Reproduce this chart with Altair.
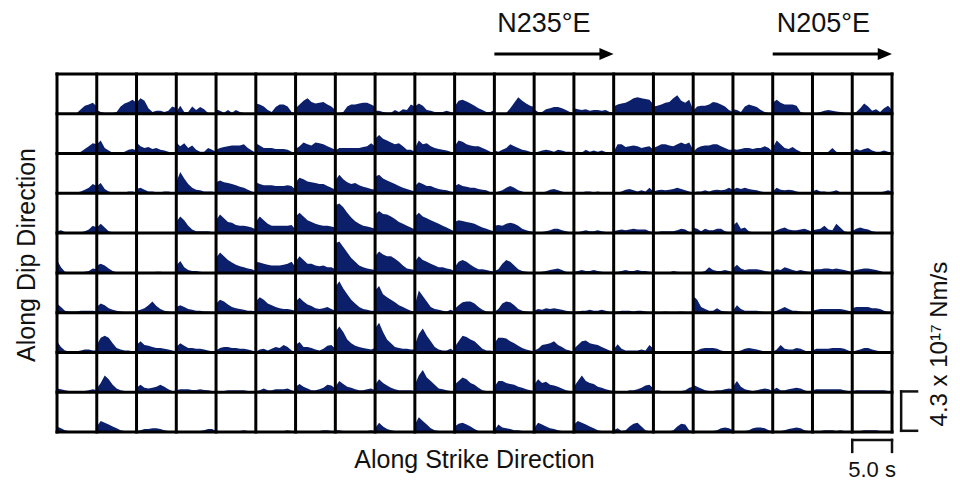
import altair as alt
import pandas as pd

NCOL, NROW = 21, 9
# sample positions inside each subfault window (fraction of the 5.0 s panel width)
TIME_FRAC = [0.0, 0.1, 0.2, 0.3, 0.4, 0.5, 0.6, 0.7, 0.8, 0.9, 1.0]

# moment-rate amplitude per subfault, as a fraction of the 4.3e17 Nm/s scale bar
R0 = [
 [0.02,0.02,0.02,0.02,0.02,0.02,0.12,0.22,0.25,0.30,0.20],
 [0.10,0.05,0.02,0.02,0.02,0.05,0.20,0.28,0.32,0.38,0.30],
 [0.30,0.42,0.35,0.15,0.05,0.08,0.08,0.05,0.08,0.20,0.15],
 [0.05,0.22,0.05,0.05,0.20,0.10,0.18,0.12,0.02,0.02,0.02],
 [0.12,0.08,0.03,0.10,0.03,0.10,0.05,0.02,0.02,0.02,0.02],
 [0.28,0.25,0.20,0.10,0.05,0.18,0.25,0.25,0.20,0.05,0.02],
 [0.15,0.25,0.35,0.42,0.32,0.28,0.30,0.32,0.25,0.20,0.10],
 [0.02,0.02,0.05,0.20,0.25,0.25,0.28,0.30,0.30,0.25,0.20],
 [0.08,0.08,0.05,0.03,0.03,0.10,0.05,0.12,0.10,0.25,0.20],
 [0.20,0.28,0.22,0.10,0.08,0.05,0.05,0.05,0.08,0.05,0.02],
 [0.20,0.35,0.38,0.33,0.28,0.22,0.15,0.10,0.05,0.05,0.10],
 [0.02,0.02,0.02,0.02,0.15,0.30,0.45,0.35,0.28,0.22,0.18],
 [0.12,0.05,0.05,0.12,0.15,0.18,0.18,0.15,0.10,0.05,0.02],
 [0.15,0.12,0.10,0.12,0.08,0.10,0.10,0.08,0.10,0.05,0.05],
 [0.20,0.25,0.28,0.30,0.35,0.42,0.45,0.42,0.40,0.38,0.25],
 [0.20,0.22,0.25,0.30,0.32,0.42,0.50,0.35,0.30,0.38,0.10],
 [0.08,0.20,0.22,0.22,0.25,0.32,0.30,0.25,0.20,0.10,0.05],
 [0.12,0.10,0.05,0.20,0.25,0.22,0.18,0.10,0.05,0.02,0.02],
 [0.30,0.38,0.30,0.25,0.25,0.25,0.22,0.05,0.02,0.02,0.02],
 [0.02,0.02,0.05,0.08,0.10,0.08,0.06,0.05,0.03,0.02,0.02],
 [0.02,0.05,0.15,0.28,0.20,0.08,0.12,0.05,0.15,0.22,0.10],
]
R1 = [
 [0.02,0.02,0.02,0.02,0.02,0.02,0.05,0.12,0.20,0.28,0.25],
 [0.25,0.35,0.15,0.08,0.02,0.02,0.02,0.05,0.10,0.12,0.08],
 [0.30,0.20,0.15,0.18,0.12,0.15,0.10,0.08,0.05,0.03,0.02],
 [0.30,0.20,0.28,0.15,0.22,0.10,0.05,0.05,0.15,0.10,0.05],
 [0.10,0.15,0.18,0.20,0.22,0.22,0.22,0.25,0.15,0.08,0.02],
 [0.28,0.22,0.15,0.15,0.15,0.12,0.12,0.12,0.10,0.05,0.02],
 [0.12,0.20,0.30,0.25,0.22,0.30,0.28,0.25,0.20,0.15,0.10],
 [0.08,0.15,0.15,0.15,0.15,0.15,0.15,0.18,0.20,0.28,0.20],
 [0.40,0.50,0.40,0.35,0.30,0.25,0.28,0.20,0.10,0.10,0.05],
 [0.15,0.35,0.25,0.28,0.20,0.15,0.12,0.10,0.08,0.05,0.02],
 [0.20,0.35,0.32,0.25,0.22,0.20,0.20,0.15,0.10,0.05,0.02],
 [0.08,0.05,0.10,0.15,0.25,0.20,0.15,0.10,0.08,0.05,0.03],
 [0.03,0.05,0.08,0.10,0.08,0.05,0.10,0.08,0.05,0.05,0.03],
 [0.03,0.05,0.03,0.10,0.05,0.08,0.05,0.08,0.04,0.02,0.02],
 [0.05,0.25,0.25,0.18,0.20,0.22,0.20,0.15,0.18,0.20,0.10],
 [0.15,0.20,0.25,0.25,0.22,0.20,0.25,0.30,0.25,0.30,0.10],
 [0.05,0.15,0.20,0.22,0.22,0.25,0.25,0.20,0.15,0.10,0.10],
 [0.12,0.10,0.12,0.15,0.15,0.12,0.15,0.15,0.20,0.15,0.05],
 [0.15,0.35,0.25,0.15,0.12,0.18,0.10,0.05,0.02,0.02,0.02],
 [0.02,0.02,0.02,0.02,0.05,0.15,0.05,0.02,0.02,0.02,0.02],
 [0.05,0.12,0.08,0.12,0.15,0.08,0.05,0.05,0.08,0.05,0.03],
]
R2 = [
 [0.02,0.02,0.02,0.02,0.02,0.02,0.05,0.10,0.15,0.25,0.20],
 [0.20,0.28,0.12,0.05,0.02,0.02,0.02,0.02,0.05,0.05,0.02],
 [0.12,0.15,0.10,0.05,0.05,0.03,0.03,0.05,0.05,0.03,0.02],
 [0.30,0.58,0.40,0.25,0.15,0.10,0.08,0.05,0.05,0.05,0.02],
 [0.30,0.35,0.30,0.28,0.25,0.22,0.18,0.15,0.10,0.05,0.02],
 [0.30,0.25,0.22,0.22,0.22,0.20,0.20,0.20,0.22,0.20,0.10],
 [0.30,0.42,0.38,0.32,0.30,0.28,0.25,0.25,0.20,0.15,0.10],
 [0.35,0.50,0.38,0.30,0.25,0.28,0.22,0.18,0.15,0.12,0.10],
 [0.45,0.50,0.40,0.35,0.30,0.25,0.20,0.15,0.12,0.08,0.05],
 [0.20,0.30,0.25,0.20,0.20,0.15,0.12,0.10,0.08,0.05,0.03],
 [0.20,0.25,0.20,0.18,0.15,0.15,0.12,0.10,0.08,0.03,0.02],
 [0.02,0.05,0.08,0.15,0.20,0.15,0.08,0.05,0.02,0.02,0.02],
 [0.02,0.02,0.02,0.05,0.10,0.12,0.08,0.05,0.02,0.02,0.02],
 [0.02,0.02,0.03,0.05,0.05,0.03,0.05,0.03,0.02,0.02,0.02],
 [0.02,0.02,0.05,0.10,0.12,0.08,0.05,0.08,0.05,0.15,0.05],
 [0.05,0.08,0.10,0.08,0.10,0.12,0.15,0.12,0.08,0.05,0.02],
 [0.02,0.05,0.05,0.08,0.05,0.08,0.10,0.08,0.10,0.15,0.10],
 [0.10,0.15,0.12,0.15,0.12,0.10,0.08,0.05,0.03,0.02,0.02],
 [0.05,0.15,0.10,0.08,0.10,0.08,0.05,0.03,0.02,0.02,0.02],
 [0.05,0.10,0.05,0.05,0.03,0.05,0.08,0.03,0.02,0.02,0.02],
 [0.02,0.02,0.02,0.03,0.03,0.03,0.03,0.03,0.05,0.08,0.05],
]
R3 = [
 [0.05,0.08,0.03,0.02,0.02,0.02,0.02,0.05,0.10,0.20,0.15],
 [0.15,0.25,0.15,0.05,0.02,0.02,0.02,0.02,0.02,0.02,0.02],
 [0.02,0.02,0.02,0.02,0.02,0.02,0.02,0.02,0.02,0.02,0.02],
 [0.30,0.45,0.35,0.20,0.10,0.05,0.05,0.05,0.05,0.03,0.02],
 [0.35,0.50,0.40,0.30,0.28,0.22,0.20,0.20,0.18,0.15,0.10],
 [0.30,0.45,0.35,0.25,0.20,0.20,0.20,0.20,0.20,0.22,0.10],
 [0.45,0.55,0.45,0.35,0.30,0.25,0.22,0.20,0.20,0.18,0.15],
 [0.75,0.80,0.70,0.55,0.42,0.32,0.25,0.20,0.18,0.15,0.12],
 [0.50,0.60,0.52,0.50,0.45,0.38,0.30,0.25,0.20,0.15,0.10],
 [0.45,0.55,0.45,0.40,0.35,0.30,0.25,0.20,0.15,0.10,0.05],
 [0.30,0.35,0.33,0.30,0.28,0.25,0.20,0.15,0.12,0.08,0.05],
 [0.20,0.22,0.20,0.25,0.28,0.25,0.20,0.12,0.08,0.05,0.03],
 [0.02,0.02,0.03,0.05,0.08,0.12,0.12,0.08,0.05,0.02,0.02],
 [0.02,0.02,0.05,0.08,0.05,0.05,0.08,0.05,0.03,0.02,0.02],
 [0.05,0.08,0.10,0.08,0.10,0.12,0.10,0.10,0.10,0.05,0.02],
 [0.02,0.03,0.05,0.05,0.05,0.05,0.08,0.12,0.10,0.03,0.02],
 [0.15,0.12,0.05,0.12,0.08,0.08,0.12,0.12,0.05,0.02,0.02],
 [0.20,0.30,0.12,0.15,0.05,0.02,0.02,0.02,0.02,0.02,0.02],
 [0.02,0.08,0.12,0.15,0.10,0.08,0.08,0.10,0.12,0.08,0.03],
 [0.08,0.10,0.12,0.20,0.10,0.08,0.25,0.15,0.05,0.02,0.02],
 [0.05,0.12,0.15,0.12,0.10,0.05,0.03,0.02,0.02,0.02,0.02],
]
R4 = [
 [0.35,0.15,0.03,0.02,0.02,0.02,0.02,0.03,0.05,0.12,0.10],
 [0.20,0.25,0.20,0.12,0.05,0.02,0.02,0.02,0.02,0.02,0.02],
 [0.02,0.02,0.02,0.02,0.02,0.03,0.03,0.02,0.02,0.02,0.02],
 [0.20,0.32,0.15,0.08,0.05,0.05,0.03,0.02,0.02,0.02,0.02],
 [0.40,0.55,0.45,0.35,0.28,0.22,0.18,0.15,0.12,0.10,0.05],
 [0.30,0.28,0.25,0.22,0.20,0.20,0.20,0.22,0.25,0.30,0.15],
 [0.30,0.45,0.35,0.25,0.25,0.20,0.18,0.20,0.15,0.15,0.10],
 [0.80,0.85,0.70,0.55,0.40,0.30,0.20,0.15,0.12,0.10,0.08],
 [0.45,0.58,0.50,0.45,0.45,0.38,0.30,0.20,0.12,0.10,0.08],
 [0.30,0.45,0.35,0.30,0.25,0.20,0.15,0.15,0.12,0.10,0.05],
 [0.15,0.30,0.35,0.30,0.22,0.15,0.10,0.10,0.08,0.05,0.03],
 [0.05,0.10,0.25,0.35,0.30,0.20,0.10,0.05,0.03,0.02,0.02],
 [0.02,0.02,0.03,0.05,0.08,0.10,0.12,0.08,0.03,0.02,0.02],
 [0.03,0.05,0.08,0.05,0.05,0.08,0.05,0.03,0.02,0.02,0.02],
 [0.02,0.03,0.05,0.08,0.05,0.05,0.08,0.05,0.05,0.03,0.02],
 [0.02,0.02,0.02,0.02,0.02,0.05,0.03,0.02,0.02,0.02,0.02],
 [0.02,0.02,0.02,0.05,0.15,0.08,0.05,0.05,0.08,0.05,0.02],
 [0.12,0.22,0.12,0.08,0.10,0.10,0.10,0.08,0.05,0.03,0.02],
 [0.05,0.10,0.08,0.15,0.12,0.08,0.05,0.08,0.05,0.03,0.02],
 [0.08,0.10,0.10,0.12,0.12,0.10,0.12,0.10,0.08,0.05,0.02],
 [0.05,0.08,0.10,0.12,0.12,0.10,0.08,0.05,0.02,0.02,0.02],
]
R5 = [
 [0.25,0.15,0.05,0.03,0.03,0.03,0.05,0.05,0.05,0.05,0.03],
 [0.15,0.25,0.20,0.12,0.08,0.05,0.03,0.02,0.02,0.02,0.02],
 [0.05,0.08,0.12,0.20,0.30,0.18,0.10,0.05,0.03,0.02,0.02],
 [0.15,0.20,0.15,0.10,0.08,0.05,0.05,0.03,0.03,0.02,0.02],
 [0.25,0.35,0.30,0.22,0.15,0.12,0.10,0.08,0.05,0.05,0.03],
 [0.30,0.42,0.35,0.25,0.20,0.15,0.12,0.10,0.10,0.08,0.05],
 [0.30,0.40,0.30,0.22,0.18,0.12,0.10,0.12,0.15,0.10,0.05],
 [0.70,0.85,0.65,0.50,0.35,0.25,0.15,0.10,0.08,0.05,0.05],
 [0.60,0.72,0.50,0.42,0.35,0.28,0.20,0.15,0.10,0.05,0.03],
 [0.20,0.60,0.45,0.30,0.15,0.10,0.08,0.05,0.03,0.08,0.03],
 [0.10,0.20,0.28,0.30,0.30,0.25,0.15,0.08,0.03,0.02,0.02],
 [0.02,0.10,0.25,0.30,0.28,0.20,0.10,0.05,0.03,0.02,0.02],
 [0.05,0.10,0.08,0.12,0.10,0.12,0.10,0.08,0.05,0.03,0.02],
 [0.02,0.03,0.05,0.05,0.08,0.05,0.05,0.08,0.05,0.02,0.02],
 [0.02,0.03,0.05,0.05,0.05,0.03,0.05,0.05,0.03,0.02,0.02],
 [0.02,0.02,0.02,0.03,0.02,0.02,0.02,0.03,0.02,0.02,0.02],
 [0.45,0.35,0.15,0.10,0.05,0.05,0.12,0.05,0.03,0.02,0.02],
 [0.05,0.20,0.10,0.05,0.05,0.05,0.05,0.03,0.02,0.02,0.02],
 [0.02,0.05,0.10,0.15,0.10,0.05,0.05,0.03,0.02,0.02,0.02],
 [0.05,0.08,0.10,0.10,0.10,0.10,0.10,0.10,0.08,0.05,0.02],
 [0.12,0.15,0.15,0.15,0.15,0.12,0.12,0.10,0.05,0.02,0.02],
]
R6 = [
 [0.30,0.15,0.05,0.03,0.03,0.03,0.05,0.08,0.08,0.05,0.05],
 [0.20,0.40,0.45,0.40,0.25,0.12,0.08,0.05,0.05,0.03,0.02],
 [0.20,0.30,0.20,0.18,0.15,0.12,0.12,0.10,0.08,0.05,0.03],
 [0.15,0.25,0.18,0.12,0.12,0.10,0.10,0.08,0.05,0.03,0.02],
 [0.05,0.12,0.15,0.15,0.12,0.12,0.10,0.10,0.08,0.05,0.02],
 [0.02,0.08,0.10,0.05,0.10,0.15,0.12,0.20,0.15,0.05,0.02],
 [0.20,0.28,0.15,0.15,0.12,0.08,0.05,0.10,0.18,0.20,0.10],
 [0.55,0.70,0.55,0.35,0.25,0.18,0.15,0.12,0.10,0.08,0.12],
 [0.65,0.80,0.55,0.35,0.25,0.15,0.12,0.10,0.10,0.08,0.08],
 [0.20,0.50,0.65,0.45,0.30,0.15,0.08,0.05,0.05,0.10,0.03],
 [0.15,0.30,0.45,0.42,0.35,0.30,0.20,0.10,0.05,0.05,0.03],
 [0.25,0.40,0.40,0.38,0.30,0.25,0.18,0.12,0.08,0.05,0.03],
 [0.05,0.10,0.20,0.22,0.25,0.30,0.20,0.15,0.08,0.05,0.02],
 [0.10,0.20,0.30,0.32,0.25,0.22,0.20,0.15,0.10,0.05,0.03],
 [0.08,0.22,0.10,0.05,0.05,0.05,0.05,0.08,0.05,0.20,0.10],
 [0.03,0.03,0.02,0.02,0.03,0.03,0.02,0.02,0.02,0.02,0.02],
 [0.02,0.05,0.10,0.12,0.12,0.12,0.10,0.05,0.03,0.02,0.02],
 [0.02,0.03,0.05,0.10,0.12,0.10,0.08,0.05,0.03,0.02,0.02],
 [0.02,0.08,0.20,0.10,0.08,0.08,0.12,0.10,0.05,0.02,0.02],
 [0.05,0.10,0.10,0.10,0.10,0.12,0.12,0.12,0.10,0.05,0.02],
 [0.02,0.05,0.08,0.12,0.12,0.08,0.05,0.03,0.02,0.02,0.02],
]
R7 = [
 [0.10,0.08,0.05,0.03,0.03,0.03,0.03,0.03,0.05,0.08,0.05],
 [0.10,0.25,0.45,0.35,0.20,0.10,0.05,0.03,0.02,0.02,0.02],
 [0.12,0.20,0.12,0.10,0.12,0.15,0.20,0.15,0.08,0.03,0.02],
 [0.05,0.08,0.08,0.08,0.06,0.06,0.08,0.06,0.05,0.03,0.02],
 [0.03,0.03,0.03,0.05,0.05,0.05,0.05,0.05,0.03,0.02,0.02],
 [0.03,0.05,0.10,0.05,0.05,0.08,0.08,0.08,0.10,0.05,0.02],
 [0.15,0.22,0.15,0.10,0.05,0.05,0.08,0.12,0.20,0.18,0.10],
 [0.15,0.30,0.22,0.15,0.12,0.08,0.05,0.05,0.08,0.10,0.05],
 [0.20,0.35,0.25,0.18,0.12,0.08,0.05,0.05,0.05,0.05,0.03],
 [0.20,0.45,0.60,0.40,0.30,0.20,0.10,0.08,0.05,0.03,0.02],
 [0.20,0.30,0.40,0.35,0.25,0.20,0.12,0.05,0.03,0.02,0.02],
 [0.15,0.30,0.30,0.25,0.22,0.20,0.15,0.12,0.08,0.05,0.03],
 [0.20,0.35,0.25,0.28,0.20,0.18,0.15,0.10,0.05,0.03,0.02],
 [0.15,0.30,0.45,0.30,0.25,0.22,0.15,0.12,0.08,0.05,0.03],
 [0.02,0.02,0.02,0.02,0.05,0.05,0.08,0.12,0.18,0.20,0.10],
 [0.03,0.05,0.03,0.03,0.02,0.03,0.03,0.03,0.05,0.12,0.15],
 [0.20,0.15,0.10,0.05,0.03,0.03,0.05,0.05,0.08,0.10,0.08],
 [0.15,0.30,0.15,0.08,0.05,0.03,0.05,0.08,0.10,0.08,0.03],
 [0.05,0.12,0.05,0.05,0.08,0.10,0.12,0.10,0.05,0.02,0.02],
 [0.05,0.08,0.08,0.08,0.08,0.08,0.08,0.08,0.05,0.03,0.02],
 [0.03,0.05,0.05,0.05,0.05,0.05,0.05,0.05,0.05,0.03,0.02],
]
R8 = [
 [0.15,0.10,0.05,0.03,0.02,0.02,0.02,0.02,0.02,0.02,0.02],
 [0.15,0.30,0.25,0.20,0.15,0.10,0.05,0.03,0.02,0.02,0.02],
 [0.03,0.05,0.08,0.08,0.10,0.10,0.08,0.05,0.03,0.02,0.02],
 [0.02,0.02,0.02,0.02,0.02,0.02,0.03,0.05,0.08,0.08,0.03],
 [0.02,0.02,0.02,0.02,0.02,0.02,0.03,0.05,0.03,0.02,0.02],
 [0.02,0.02,0.02,0.02,0.02,0.02,0.02,0.03,0.05,0.03,0.02],
 [0.02,0.02,0.02,0.02,0.02,0.02,0.03,0.05,0.05,0.03,0.02],
 [0.05,0.05,0.03,0.03,0.02,0.02,0.03,0.03,0.03,0.05,0.03],
 [0.10,0.25,0.15,0.08,0.05,0.03,0.03,0.02,0.02,0.02,0.02],
 [0.20,0.40,0.30,0.20,0.10,0.05,0.03,0.02,0.02,0.02,0.02],
 [0.15,0.22,0.25,0.20,0.15,0.08,0.03,0.02,0.02,0.02,0.02],
 [0.05,0.20,0.12,0.10,0.08,0.05,0.05,0.03,0.02,0.02,0.02],
 [0.10,0.25,0.20,0.15,0.10,0.08,0.05,0.03,0.02,0.02,0.02],
 [0.20,0.30,0.25,0.20,0.15,0.10,0.05,0.03,0.03,0.02,0.02],
 [0.05,0.10,0.03,0.05,0.15,0.22,0.25,0.15,0.05,0.02,0.02],
 [0.02,0.02,0.02,0.02,0.02,0.05,0.15,0.22,0.20,0.05,0.02],
 [0.02,0.02,0.02,0.02,0.02,0.03,0.05,0.10,0.12,0.10,0.05],
 [0.02,0.02,0.02,0.03,0.05,0.10,0.12,0.12,0.10,0.05,0.02],
 [0.02,0.02,0.03,0.05,0.08,0.10,0.12,0.10,0.05,0.03,0.02],
 [0.02,0.02,0.03,0.05,0.05,0.05,0.03,0.05,0.03,0.02,0.02],
 [0.02,0.02,0.03,0.05,0.05,0.05,0.05,0.03,0.03,0.02,0.02],
]
ROWS = [R0, R1, R2, R3, R4, R5, R6, R7, R8]

FILL = "#0b1f6b"
INK = "#111111"
FONT = "Liberation Sans"
PANEL_FILL = 0.93  # drawable fraction of each panel height

recs = []
for r, row in enumerate(ROWS):
    base = NROW - 1 - r
    for c, cell in enumerate(row):
        for t, v in zip(TIME_FRAC, cell):
            recs.append({"cell": f"{r}_{c}", "x": c + t, "y": base + v * PANEL_FILL, "y0": base})
df = pd.DataFrame(recs)

xs = alt.Scale(domain=[0, NCOL], nice=False, zero=False)
ys = alt.Scale(domain=[0, NROW], nice=False, zero=False)

areas = alt.Chart(df).mark_area(color=FILL, interpolate="linear").encode(
    x=alt.X("x:Q", scale=xs, axis=None),
    y=alt.Y("y:Q", scale=ys, axis=None),
    y2="y0:Q",
    detail="cell:N",
)

grid_recs = [{"x": c, "x2": c, "y": 0, "y2": NROW} for c in range(NCOL + 1)]
grid_recs += [{"x": 0, "x2": NCOL, "y": r, "y2": r} for r in range(NROW + 1)]
grid = alt.Chart(pd.DataFrame(grid_recs)).mark_rule(color="black", strokeWidth=3, strokeCap="square").encode(
    x=alt.X("x:Q", scale=xs, axis=None), x2="x2:Q",
    y=alt.Y("y:Q", scale=ys, axis=None), y2="y2:Q",
)

# arrows above the grid
arrow_lines = pd.DataFrame([
    {"x": 11.0, "x2": 13.7, "y": 9.5, "y2": 9.5},
    {"x": 18.0, "x2": 20.7, "y": 9.5, "y2": 9.5},
])
arrows = alt.Chart(arrow_lines).mark_rule(color="black", strokeWidth=3).encode(
    x=alt.X("x:Q", scale=xs, axis=None), x2="x2:Q",
    y=alt.Y("y:Q", scale=ys, axis=None), y2="y2:Q",
)
heads = alt.Chart(pd.DataFrame([{"x": 13.82, "y": 9.5}, {"x": 20.82, "y": 9.5}])).mark_point(
    shape="M-1,-0.85L1,0L-1,0.85Z", filled=True, color="black", opacity=1, size=200, strokeWidth=0
).encode(x=alt.X("x:Q", scale=xs, axis=None), y=alt.Y("y:Q", scale=ys, axis=None))

# scale brackets
br = pd.DataFrame([
    {"x": 21.23, "x2": 21.23, "y": 0.03, "y2": 1.02},
    {"x": 21.23, "x2": 21.63, "y": 1.02, "y2": 1.02},
    {"x": 21.23, "x2": 21.63, "y": 0.03, "y2": 0.03},
    {"x": 20.0, "x2": 21.0, "y": -0.2, "y2": -0.2},
    {"x": 20.0, "x2": 20.0, "y": -0.2, "y2": -0.5},
    {"x": 21.0, "x2": 21.0, "y": -0.2, "y2": -0.5},
])
brackets = alt.Chart(br).mark_rule(color=INK, strokeWidth=2.5, strokeCap="square").encode(
    x=alt.X("x:Q", scale=xs, axis=None), x2="x2:Q",
    y=alt.Y("y:Q", scale=ys, axis=None), y2="y2:Q",
)

def text_layer(rows, **kw):
    return alt.Chart(pd.DataFrame(rows)).mark_text(font=FONT, color=INK, baseline="middle", **kw).encode(
        x=alt.X("x:Q", scale=xs, axis=None), y=alt.Y("y:Q", scale=ys, axis=None), text="label:N"
    )

dir_labels = text_layer([
    {"x": 11.07, "y": 10.26, "label": "N235°E"},
    {"x": 18.1, "y": 10.26, "label": "N205°E"},
], align="left", fontSize=27)
strike_label = text_layer([{"x": 10.5, "y": -0.70, "label": "Along Strike Direction"}], align="center", fontSize=25)
time_label = text_layer([{"x": 20.5, "y": -0.95, "label": "5.0 s"}], align="center", fontSize=22)
dip_label = text_layer([{"x": -0.75, "y": 4.45, "label": "Along Dip Direction"}], align="center", fontSize=25, angle=270)
amp_label = text_layer([{"x": 22.2, "y": 2.21, "label": "4.3 x 10¹⁷ Nm/s"}], align="center", fontSize=24, angle=270)

chart = alt.layer(
    areas, grid, arrows, heads, brackets, dir_labels, strike_label, time_label, dip_label, amp_label
).properties(
    width=835, height=358,
    padding={"left": 49, "top": 66, "right": 60, "bottom": 51},
    autosize=alt.AutoSizeParams(type="none"),
    background="white",
).configure_view(stroke=None)

chart.save("out.html", embed_options={"renderer": "svg", "actions": False})
